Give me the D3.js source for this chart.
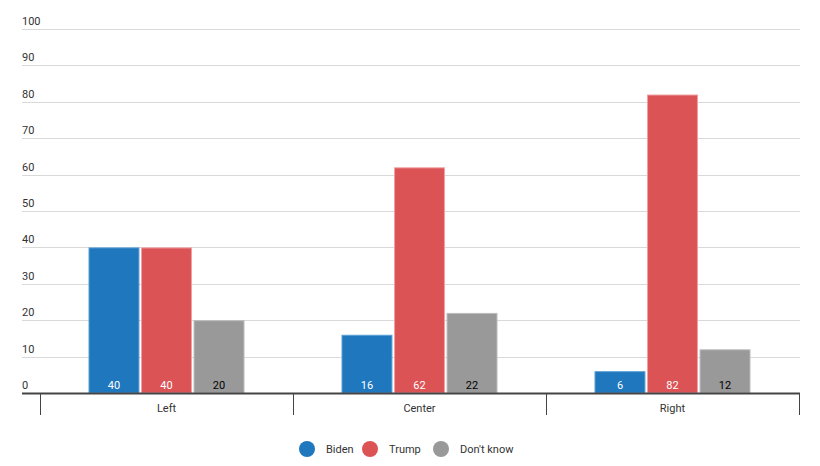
<!DOCTYPE html>
<html><head><meta charset="utf-8">
<script src="https://cdn.jsdelivr.net/npm/d3@7"></script>
<style>body{margin:0;background:#fff;font-family:Roboto,"Noto Sans",sans-serif;}</style>
</head><body><svg id="c" width="820" height="466"></svg>
<script>
const categories = ["Left","Center","Right"];
const series = ["Biden","Trump","Don't know"];
const biden = [40,16,6];
const trump = [40,62,82];
const dontKnow = [20,22,12];
const yTicks = [0,10,20,30,40,50,60,70,80,90,100];
const colors = ["#1f77bd","#dc5356","#999999"];
const strokes = ["#5b9fd6","#f0a0a2","#bbbbbb"];
const labelColors = ["#fff","#fff","#000"];

(function(){
const values = [biden, trump, dontKnow];
const svg = d3.select("#c");
const mLeft = 22, mRight = 800, mTop = 29, mBottom = 393;
const y = d3.scaleLinear().domain([0,100]).range([mBottom, mTop]);
const x0 = d3.scaleBand().domain(categories).range([40, 799]).paddingInner(0).paddingOuter(0);
const x1 = d3.scaleBand().domain(series).range([0, 156]).paddingInner(0.03);

// gridlines
svg.append("g").selectAll("line").data(yTicks.filter(d=>d>0)).join("line")
  .attr("x1", mLeft).attr("x2", mRight).attr("y1", d=>Math.round(y(d))+0.5).attr("y2", d=>Math.round(y(d))+0.5)
  .attr("stroke", "#d9d9d9").attr("stroke-width", 1);
svg.append("g").selectAll("text").data(yTicks).join("text")
  .attr("x", mLeft).attr("y", d=>y(d)-4)
  .attr("font-size", 11).attr("fill", "#333").text(d=>d);

// bars
const groups = svg.append("g").selectAll("g").data(categories).join("g")
  .attr("transform", c => `translate(${x0(c) + x0.bandwidth()/2 - 78},0)`);
groups.each(function(c, ci){
  const g = d3.select(this);
  series.forEach((s, si) => {
    const v = values[si][ci];
    g.append("rect").attr("x", x1(s)+0.5).attr("y", y(v)+0.5)
      .attr("width", x1.bandwidth()-1).attr("height", mBottom - y(v) - 0.5)
      .attr("fill", colors[si]).attr("stroke", strokes[si]).attr("stroke-width", 1);
    g.append("text").attr("x", x1(s)+x1.bandwidth()/2).attr("y", mBottom-4)
      .attr("text-anchor","middle").attr("font-size", 11).attr("fill", labelColors[si]).text(v);
  });
});

// axis
svg.append("line").attr("x1", mLeft).attr("x2", mRight).attr("y1", mBottom+0.5).attr("y2", mBottom+0.5)
  .attr("stroke", "#444").attr("stroke-width", 2);
const tickXs = [x0(categories[0])].concat(categories.map(c=>x0(c)+x0.bandwidth()));
svg.append("g").selectAll("line").data(tickXs).join("line")
  .attr("x1", d=>Math.round(d)+0.5).attr("x2", d=>Math.round(d)+0.5)
  .attr("y1", mBottom).attr("y2", 415).attr("stroke", "#444").attr("stroke-width", 1);
svg.append("g").selectAll("text").data(categories).join("text")
  .attr("x", c=>x0(c)+x0.bandwidth()/2).attr("y", 412)
  .attr("text-anchor","middle").attr("font-size", 11).attr("fill", "#333").text(c=>c);

// legend
const legX = [307, 370, 441];
const leg = svg.append("g").selectAll("g").data(series).join("g")
  .attr("transform", (s,i)=>`translate(${legX[i]},449)`);
leg.append("circle").attr("r", 8).attr("fill", (s,i)=>colors[i]);
leg.append("text").attr("x", 19).attr("y", 4).attr("font-size", 11).attr("fill", "#333").text(s=>s);
})();
</script></body></html>
